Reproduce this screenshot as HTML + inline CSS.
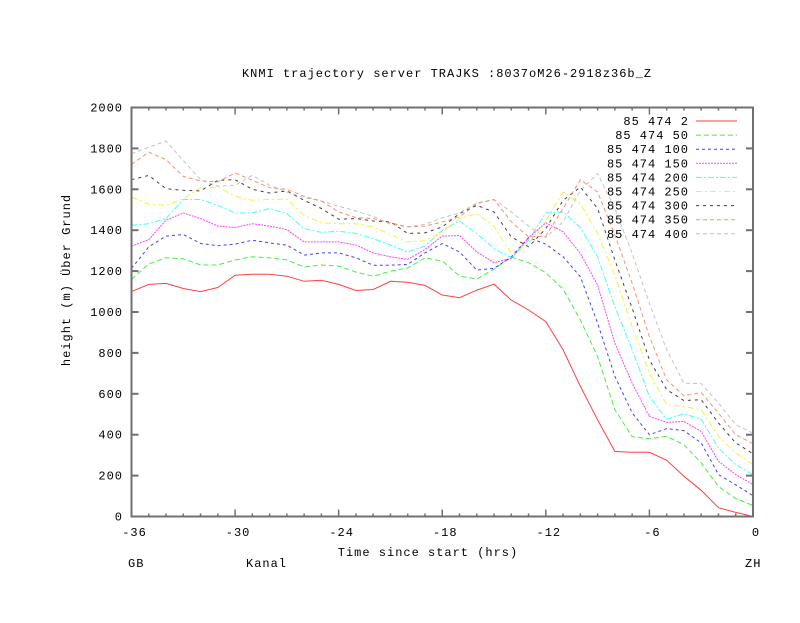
<!DOCTYPE html>
<html><head><meta charset="utf-8"><style>
body{margin:0;background:#fff}
svg text{font-family:"Liberation Mono","DejaVu Sans Mono",monospace;font-size:12px;fill:#000;letter-spacing:1px}
</style></head><body>
<svg id="s" width="800" height="618" xmlns="http://www.w3.org/2000/svg">
<rect width="800" height="618" fill="#fff"/>
<g id="plot"></g>
<g id="axes"></g>
<text x="447" y="77" text-anchor="middle">KNMI trajectory server TRAJKS :8037oM26-2918z36b_Z</text>
<text transform="translate(70,280) rotate(-90)" text-anchor="middle">height (m) Über Grund</text>
<text x="428" y="556" text-anchor="middle">Time since start (hrs)</text>
<text x="128" y="567">GB</text>
<text x="246" y="567">Kanal</text>
<text x="745" y="567">ZH</text>
</svg>
<script>
var L=131.5,R=753,T=107.5,B=516.5;
function X(h){return L+(R-L)*(h+36)/36}
function Y(v){return B-(B-T)*v/2000}
var S=[
["#ff0000","",[1100,1135,1140,1115,1100,1120,1180,1185,1185,1175,1150,1155,1135,1105,1110,1150,1145,1130,1083,1070,1107,1136,1058,1010,953,815,636,473,318,314,314,275,197,128,43,20,0],"2"],
["#00ee00","5,3",[1160,1235,1265,1260,1230,1230,1255,1270,1265,1255,1220,1230,1225,1195,1175,1200,1215,1265,1249,1176,1161,1210,1268,1241,1192,1112,961,782,522,390,380,392,351,263,146,88,54],"50"],
["#0000ff","3,3",[1213,1319,1371,1379,1335,1324,1332,1351,1338,1327,1278,1289,1289,1265,1229,1229,1233,1289,1335,1294,1205,1213,1270,1364,1332,1270,1172,945,685,506,400,430,420,360,205,155,102],"100"],
["#ff00ff","2,1",[1322,1354,1449,1484,1457,1420,1413,1432,1420,1403,1343,1343,1343,1327,1289,1270,1257,1306,1371,1374,1294,1241,1262,1364,1436,1392,1286,1132,847,652,489,460,465,416,270,205,156],"150"],
["#00ffff","6,2,2,2",[1424,1432,1457,1550,1550,1522,1484,1484,1506,1481,1408,1389,1395,1384,1359,1327,1294,1322,1400,1445,1384,1310,1266,1351,1484,1489,1413,1270,1026,815,587,476,502,476,335,254,205],"200"],
["#eeee00","6,3,2,3",[1562,1527,1522,1554,1608,1611,1566,1546,1551,1551,1473,1436,1432,1432,1416,1379,1343,1348,1392,1457,1481,1420,1286,1335,1445,1587,1530,1384,1180,928,701,546,538,522,392,311,254],"250"],
["#000000","3,4",[1647,1668,1603,1595,1592,1644,1647,1600,1582,1592,1546,1506,1454,1457,1445,1441,1384,1387,1416,1481,1522,1489,1367,1319,1408,1546,1611,1506,1254,1018,766,620,567,571,457,360,307],"300"],
["#ff6a3a","4,3",[1722,1782,1745,1663,1641,1636,1680,1644,1608,1600,1566,1543,1489,1462,1457,1436,1416,1420,1440,1465,1530,1550,1441,1367,1371,1506,1647,1587,1376,1140,880,668,590,606,506,400,356],"350"],
["#b0b0b0","4,3",[1774,1806,1836,1741,1647,1615,1620,1668,1620,1587,1559,1543,1517,1494,1468,1429,1416,1429,1460,1484,1533,1550,1489,1420,1364,1441,1595,1677,1506,1286,1042,815,652,650,555,449,408],"400"]];
var g=document.getElementById('plot'),h='';
S.forEach(function(s,i){
 var p=s[2].map(function(v,k){return X(k-36).toFixed(1)+','+Y(v).toFixed(1)}).join(' ');
 h+='<polyline points="'+p+'" fill="none" stroke="'+s[0]+'" stroke-width="1" stroke-opacity="0.75"'+(s[1]?' stroke-dasharray="'+s[1]+'"':'')+'/>';
 var y=121+i*14.1;
 h+='<text x="689" y="'+(y+4)+'" text-anchor="end" xml:space="preserve">85 474 '+s[3]+'</text>';
 h+='<line x1="696" x2="737" y1="'+y+'" y2="'+y+'" stroke="'+s[0]+'" stroke-opacity="0.75"'+(s[1]?' stroke-dasharray="'+s[1]+'"':'')+'/>';
});
g.innerHTML=h;
var a='<rect x="'+L+'" y="'+T+'" width="'+(R-L)+'" height="'+(B-T)+'" fill="none" stroke="#707070" stroke-width="2"/>';
for(var k=0;k<=36;k++){var x=X(k-36),len=(k%6==0)?7:3;
 a+='<line x1="'+x+'" x2="'+x+'" y1="'+B+'" y2="'+(B-len)+'" stroke="#707070" stroke-width="1.5"/>';
 a+='<line x1="'+x+'" x2="'+x+'" y1="'+T+'" y2="'+(T+len)+'" stroke="#707070" stroke-width="1.5"/>';
 if(k%6==0)a+='<text x="'+(x+3)+'" y="536" text-anchor="middle">'+(k-36)+'</text>';}
for(var v=0;v<=2000;v+=200){var y=Y(v);
 a+='<line x1="'+L+'" x2="'+(L+7)+'" y1="'+y+'" y2="'+y+'" stroke="#707070" stroke-width="2"/>';
 a+='<line x1="'+R+'" x2="'+(R-7)+'" y1="'+y+'" y2="'+y+'" stroke="#707070" stroke-width="2"/>';
 a+='<text x="123" y="'+(y+4)+'" text-anchor="end">'+v+'</text>';}
document.getElementById('axes').innerHTML=a;
</script>
</body></html>
